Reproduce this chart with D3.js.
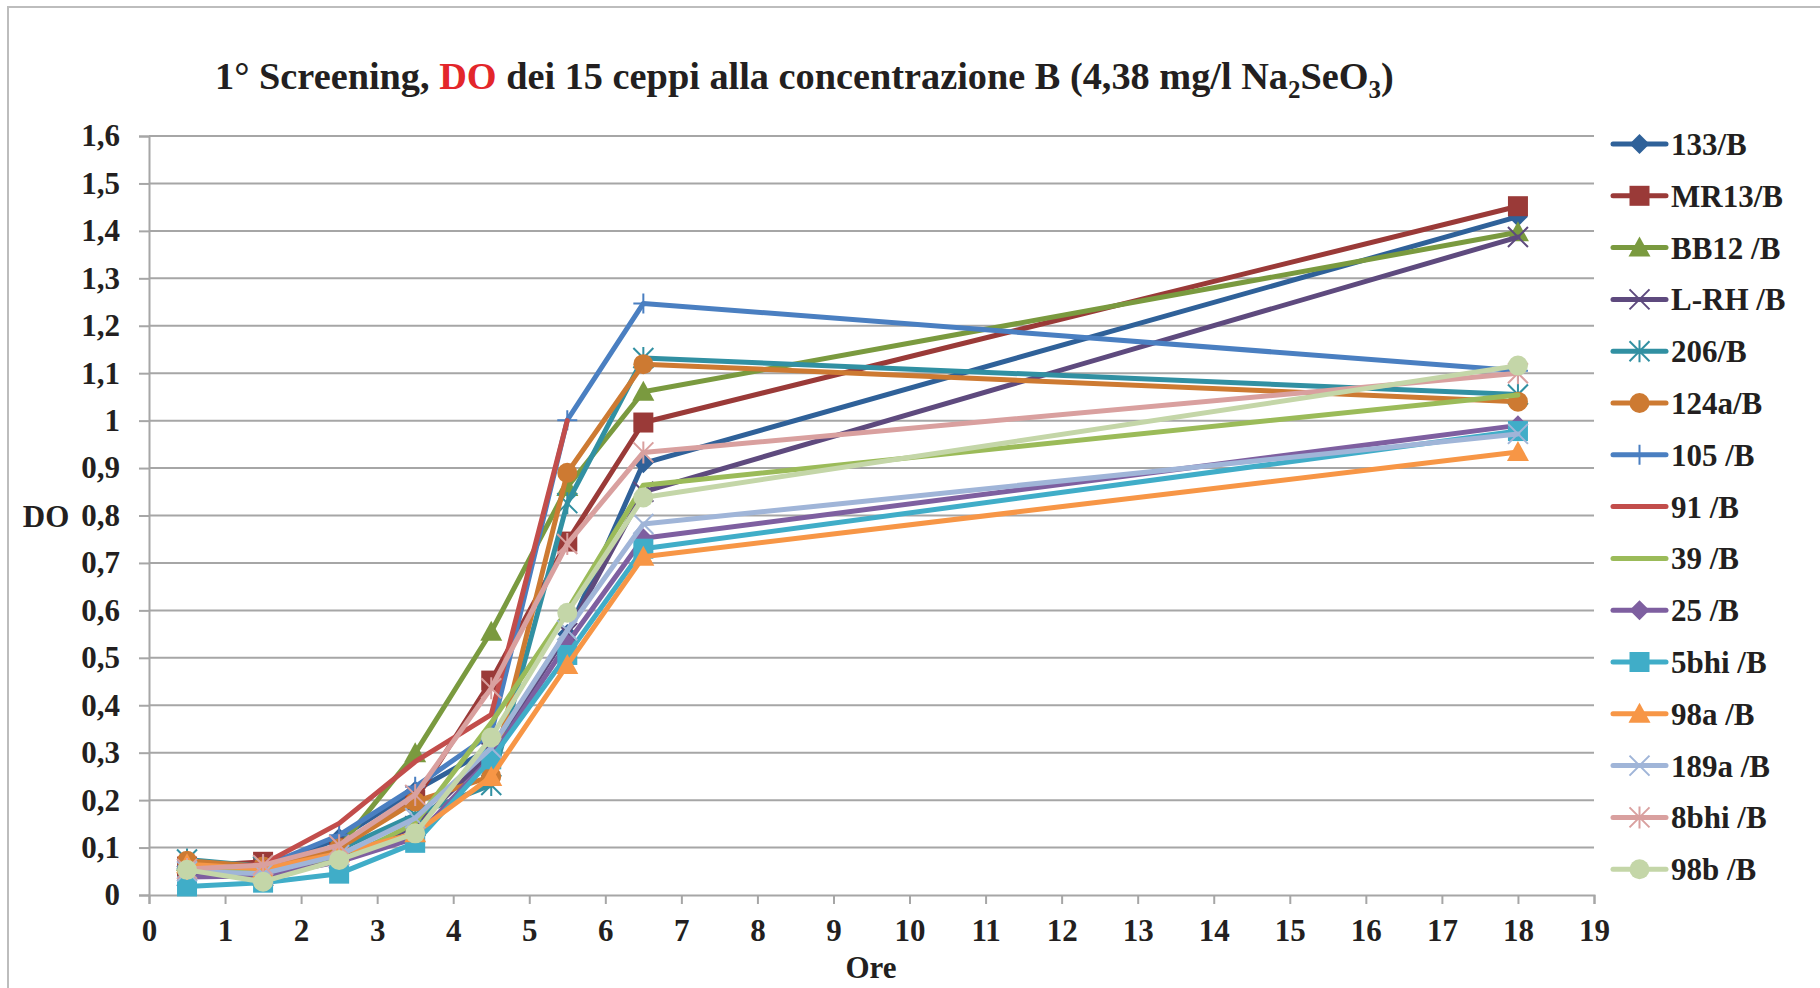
<!DOCTYPE html>
<html><head><meta charset="utf-8">
<script src="https://cdn.jsdelivr.net/npm/d3@7"></script>
<style>body{margin:0;background:#fff}svg{display:block}text{font-family:"Liberation Serif","Times New Roman",serif;font-weight:bold}</style>
</head><body>
<script>
const hours = [0.5, 1.5, 2.5, 3.5, 4.5, 5.5, 6.5, 18];
const seriesNames = ["133/B","MR13/B","BB12 /B","L-RH /B","206/B","124a/B","105 /B","91 /B","39 /B","25 /B","5bhi /B","98a /B","189a /B","8bhi /B","98b /B"];
const seriesColors = ["#2F6199","#9A3A38","#7A9A3F","#5E4A7E","#3190A2","#CD7A32","#4A7FC1","#C24D4B","#9BBB59","#7E5FA0","#40ADC8","#F79646","#A0B5D8","#D9A09F","#C4D6A8"];
const seriesMarkers = ["diamond","square","triangle","x","asterisk","circle","plus","none","none","diamond","square","triangle","x","asterisk","circle"];
const v133  = [0.060, 0.055, 0.120, 0.220, 0.310, 0.550, 0.910, 1.430];
const vMR13 = [0.060, 0.070, 0.100, 0.200, 0.452, 0.745, 0.996, 1.452];
const vBB12 = [0.070, 0.050, 0.100, 0.299, 0.555, 0.860, 1.061, 1.397];
const vLRH  = [0.040, 0.040, 0.077, 0.145, 0.300, 0.552, 0.850, 1.387];
const v206  = [0.075, 0.060, 0.096, 0.169, 0.232, 0.826, 1.132, 1.055];
const v124a = [0.072, 0.060, 0.099, 0.197, 0.250, 0.890, 1.119, 1.040];
const v105  = [0.060, 0.060, 0.126, 0.228, 0.340, 1.001, 1.247, 1.105];
const v91   = [0.050, 0.065, 0.151, 0.281, 0.380, 1.000, null, null];
const v39   = [0.050, 0.050, 0.070, 0.152, 0.363, 0.600, 0.864, 1.054];
const v25   = [0.038, 0.040, 0.070, 0.120, 0.290, 0.530, 0.752, 0.990];
const v5bhi = [0.018, 0.026, 0.045, 0.110, 0.286, 0.506, 0.730, 0.978];
const v98a  = [0.065, 0.055, 0.088, 0.130, 0.249, 0.485, 0.713, 0.934];
const v189a = [0.050, 0.045, 0.084, 0.162, 0.310, 0.558, 0.782, 0.972];
const v8bhi = [0.055, 0.063, 0.105, 0.211, 0.436, 0.740, 0.933, 1.100];
const v98b  = [0.053, 0.028, 0.074, 0.130, 0.332, 0.595, 0.838, 1.116];
const seriesValues = [v133, vMR13, vBB12, vLRH, v206, v124a, v105, v91, v39, v25, v5bhi, v98a, v189a, v8bhi, v98b];
const yTicks = [0,0.1,0.2,0.3,0.4,0.5,0.6,0.7,0.8,0.9,1,1.1,1.2,1.3,1.4,1.5,1.6];
const xTicks = d3.range(0, 20);

const W = 1820, H = 988;
const svg = d3.select("body").append("svg").attr("width", W).attr("height", H);
svg.append("rect").attr("x", 8).attr("y", 7).attr("width", 1830).attr("height", 1000)
  .attr("fill", "#fff").attr("stroke", "#BDBDBD").attr("stroke-width", 2);

const L = 149, R = 1594, T = 136, B = 895;
const FS = 31;
const x = d3.scaleLinear().domain([0, 19]).range([L, R]);
const y = d3.scaleLinear().domain([0, 1.6]).range([B, T]);
const fmt = d => d3.format(".1f")(d).replace(".", ",").replace(/,0$/, "");

// gridlines
svg.append("g").selectAll("line").data(yTicks.slice(1)).join("line")
  .attr("x1", L).attr("x2", R).attr("y1", d => y(d)).attr("y2", d => y(d))
  .attr("stroke", "#A6A6A6").attr("stroke-width", 2);

// y axis
const ya = svg.append("g").attr("transform", `translate(${L},0)`)
  .call(d3.axisLeft(y).tickValues(yTicks).tickFormat(fmt).tickSize(10).tickPadding(19));
ya.select(".domain").attr("stroke", "#A6A6A6").attr("stroke-width", 2);
ya.selectAll(".tick line").attr("stroke", "#A6A6A6").attr("stroke-width", 2);
ya.selectAll("text").attr("font-size", FS).attr("fill", "#231F20")
  .attr("font-family", "Liberation Serif").attr("font-weight", "bold");

// x axis
const xa = svg.append("g").attr("transform", `translate(0,${B})`)
  .call(d3.axisBottom(x).tickValues(xTicks).tickFormat(d3.format("d")).tickSize(9).tickPadding(15));
xa.select(".domain").attr("stroke", "#A6A6A6").attr("stroke-width", 2);
xa.selectAll(".tick line").attr("stroke", "#A6A6A6").attr("stroke-width", 2);
xa.selectAll("text").attr("font-size", FS).attr("fill", "#231F20")
  .attr("font-family", "Liberation Serif").attr("font-weight", "bold");

// axis titles
svg.append("text").attr("x", 46).attr("y", 527).attr("text-anchor", "middle")
  .attr("font-size", FS).attr("fill", "#231F20").text("DO");
svg.append("text").attr("x", 871).attr("y", 978).attr("text-anchor", "middle")
  .attr("font-size", FS).attr("fill", "#231F20").text("Ore");

// title
const title = svg.append("text").attr("x", 215).attr("y", 89).attr("font-size", 38.3).attr("fill", "#231F20");
title.append("tspan").text("1° Screening, ");
title.append("tspan").attr("fill", "#E3262B").text("DO");
title.append("tspan").text(" dei 15 ceppi alla concentrazione B (4,38 mg/l Na");
title.append("tspan").attr("font-size", 25).attr("dy", 9).text("2");
title.append("tspan").attr("dy", -9).text("SeO");
title.append("tspan").attr("font-size", 25).attr("dy", 9).text("3");
title.append("tspan").attr("dy", -9).text(")");

function drawMarker(g, type, cx, cy, color) {
  const s = 10;
  if (type === "diamond") {
    g.append("path").attr("d", `M${cx},${cy-s}L${cx+s},${cy}L${cx},${cy+s}L${cx-s},${cy}Z`).attr("fill", color);
  } else if (type === "square") {
    g.append("rect").attr("x", cx-s).attr("y", cy-s).attr("width", 2*s).attr("height", 2*s).attr("fill", color);
  } else if (type === "triangle") {
    g.append("path").attr("d", `M${cx},${cy-s-1}L${cx+s+1},${cy+s-1}L${cx-s-1},${cy+s-1}Z`).attr("fill", color);
  } else if (type === "circle") {
    g.append("circle").attr("cx", cx).attr("cy", cy).attr("r", s).attr("fill", color);
  } else if (type === "x") {
    g.append("path").attr("d", `M${cx-s},${cy-s}L${cx+s},${cy+s}M${cx+s},${cy-s}L${cx-s},${cy+s}`)
      .attr("stroke", color).attr("stroke-width", 2).attr("fill", "none");
  } else if (type === "asterisk") {
    g.append("path").attr("d", `M${cx-s},${cy-s}L${cx+s},${cy+s}M${cx+s},${cy-s}L${cx-s},${cy+s}M${cx},${cy-s-1}L${cx},${cy+s+1}`)
      .attr("stroke", color).attr("stroke-width", 2).attr("fill", "none");
  } else if (type === "plus") {
    g.append("path").attr("d", `M${cx-s},${cy}L${cx+s},${cy}M${cx},${cy-s}L${cx},${cy+s}`)
      .attr("stroke", color).attr("stroke-width", 2).attr("fill", "none");
  }
}

const line = d3.line().defined(d => d[1] !== null).x(d => x(d[0])).y(d => y(d[1]));
seriesValues.forEach((vals, i) => {
  const g = svg.append("g");
  const pts = hours.map((h, k) => [h, vals[k]]);
  g.append("path").attr("d", line(pts)).attr("fill", "none").attr("stroke", seriesColors[i])
    .attr("stroke-width", 5).attr("stroke-linejoin", "round").attr("stroke-linecap", "round");
  pts.filter(p => p[1] !== null).forEach(p => drawMarker(g, seriesMarkers[i], x(p[0]), y(p[1]), seriesColors[i]));
});

// legend
const lg = svg.append("g");
seriesNames.forEach((name, i) => {
  const cy = 144 + i * 51.8;
  const g = lg.append("g");
  g.append("line").attr("x1", 1613).attr("x2", 1666).attr("y1", cy).attr("y2", cy)
    .attr("stroke", seriesColors[i]).attr("stroke-width", 5).attr("stroke-linecap", "round");
  drawMarker(g, seriesMarkers[i], 1639.5, cy, seriesColors[i]);
  g.append("text").attr("x", 1671).attr("y", cy + 11).attr("font-size", FS).attr("fill", "#231F20").text(name);
});
</script>
</body></html>
